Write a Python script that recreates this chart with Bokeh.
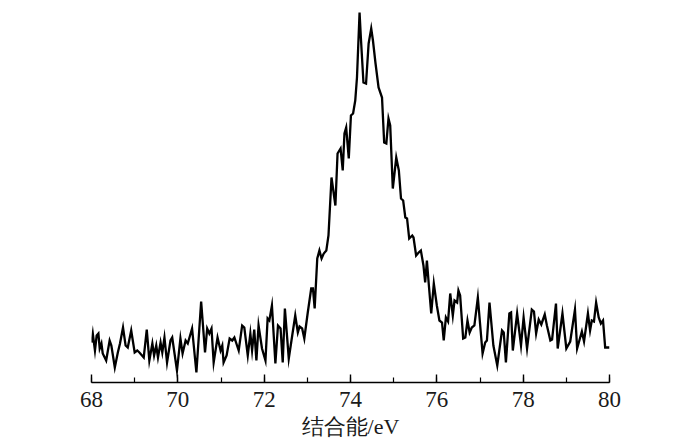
from bokeh.plotting import figure
from bokeh.models import Range1d, SingleIntervalTicker
from bokeh.embed import file_html
from bokeh.resources import INLINE

# Binding energy (eV) and intensity (arbitrary units)
energy = [
    68.00, 68.03, 68.08, 68.12, 68.16, 68.19, 68.23, 68.26, 68.34, 68.42,
    68.46, 68.54, 68.61, 68.66, 68.73, 68.79, 68.84, 68.92, 69.00, 69.06,
    69.11, 69.21, 69.28, 69.34, 69.41, 69.45, 69.50, 69.54, 69.60, 69.64,
    69.69, 69.75, 69.83, 69.87,
    69.98, 70.06, 70.11, 70.18, 70.23, 70.33, 70.43, 70.54, 70.63, 70.68,
    70.73, 70.78, 70.83, 70.92, 70.99, 71.03, 71.06, 71.13, 71.20, 71.26,
    71.31, 71.41, 71.49, 71.54, 71.62, 71.68, 71.72, 71.77, 71.82, 71.87,
    71.95, 72.03, 72.08, 72.12, 72.18, 72.26, 72.32, 72.38, 72.43, 72.48,
    72.57, 72.65, 72.72, 72.78, 72.82, 72.88, 72.93, 73.01, 73.09, 73.13,
    73.17, 73.23, 73.28, 73.33, 73.38, 73.44, 73.49, 73.56, 73.65, 73.70,
    73.77, 73.82, 73.86, 73.90, 73.96, 74.01, 74.06, 74.11, 74.15, 74.21,
    74.24, 74.30, 74.36, 74.42, 74.48, 74.52, 74.58, 74.65, 74.73, 74.78,
    74.83, 74.88, 74.92, 74.98, 75.06, 75.12, 75.17, 75.22, 75.27, 75.31,
    75.36, 75.43, 75.46, 75.52, 75.58, 75.63, 75.69, 75.73, 75.77, 75.81,
    75.87, 75.93, 76.00, 76.06, 76.12, 76.16, 76.21, 76.26, 76.31, 76.37,
    76.41, 76.47, 76.50, 76.54, 76.61, 76.66, 76.71, 76.76, 76.81, 76.87,
    76.95, 77.06, 77.12, 77.16, 77.22, 77.31, 77.40, 77.51, 77.55, 77.60,
    77.68, 77.72, 77.76, 77.86, 77.95, 78.01, 78.09, 78.20, 78.25, 78.30,
    78.36, 78.42, 78.50, 78.55, 78.63, 78.67, 78.76, 78.80, 78.91, 79.00,
    79.09, 79.20, 79.25, 79.36, 79.41, 79.50, 79.55, 79.59, 79.64, 79.69,
    79.75, 79.80, 79.85, 79.90, 80.00,
]
intensity = [
    40, 49, 32, 47, 49, 34, 39, 29, 22, 42,
    37, 15, 30, 39, 55, 37, 35, 52, 30, 32,
    30, 25, 53, 22, 39, 27, 37, 25, 40, 30,
    45, 20, 42, 45,
    12, 44, 29, 42, 39, 54, 10, 81, 30, 54,
    49, 54, 20, 45, 32, 37, 20, 27, 44, 42,
    45, 32, 57, 55, 27, 49, 32, 53, 22, 57,
    34, 22, 64, 62, 77, 19, 57, 54, 20, 74,
    24, 47, 67, 50, 56, 54, 44, 70, 94, 94,
    74, 124, 132, 124, 129, 132, 147, 205, 177, 229,
    234, 212, 249, 255, 224, 267, 269, 282, 305, 370,
    345, 300, 299, 339, 354, 342, 319, 295, 285, 240,
    239, 264, 257, 194, 225, 212, 184, 182, 165, 164,
    144, 147, 145, 127, 130, 132, 117, 100, 122, 100,
    69, 99, 77, 62, 60, 42, 65, 61, 89, 67,
    82, 80, 92, 87, 44, 45, 62, 50, 55, 57,
    85, 29, 40, 42, 80, 37, 17, 52, 50, 20,
    69, 70, 32, 69, 37, 65, 34, 73, 71, 49,
    63, 58, 68, 57, 42, 43, 79, 34, 69, 34,
    41, 73, 34, 51, 41, 69, 52, 62, 61, 80,
    65, 59, 62, 35, 35,
]
assert len(energy) == len(intensity)

x_label = "结合能/eV"
x_min, x_max = 68, 80

p = figure(
    width=700, height=441,
    x_range=Range1d(x_min, x_max), y_range=Range1d(0, 374),
    output_backend="svg", toolbar_location=None,
    y_axis_location=None,
    min_border_left=91, min_border_right=91,
    min_border_top=8, min_border_bottom=59,
)
p.outline_line_color = None
p.xgrid.visible = False
p.ygrid.visible = False
p.background_fill_color = "white"
p.border_fill_color = "white"

p.line(energy, intensity, line_color="black", line_width=2.3, line_join="miter")

ax = p.xaxis[0]
ax.ticker = SingleIntervalTicker(interval=2, num_minor_ticks=2)
ax.axis_line_color = "black"
ax.axis_line_width = 1.4
ax.major_tick_line_color = "black"
ax.major_tick_line_width = 1.4
ax.major_tick_in = 8
ax.major_tick_out = 0
ax.minor_tick_line_color = "black"
ax.minor_tick_line_width = 1.2
ax.minor_tick_in = 5
ax.minor_tick_out = 0
ax.major_label_text_font = "Liberation Serif"
ax.major_label_text_font_size = "23px"
ax.major_label_text_color = "#1a1a1a"
ax.major_label_standoff = 9
ax.axis_label = x_label
ax.axis_label_text_font = "Liberation Serif"
ax.axis_label_text_font_size = "22px"
ax.axis_label_text_font_style = "normal"
ax.axis_label_text_color = "#1a1a1a"
ax.axis_label_standoff = 4

open("out.html", "w").write(file_html(p, INLINE))
